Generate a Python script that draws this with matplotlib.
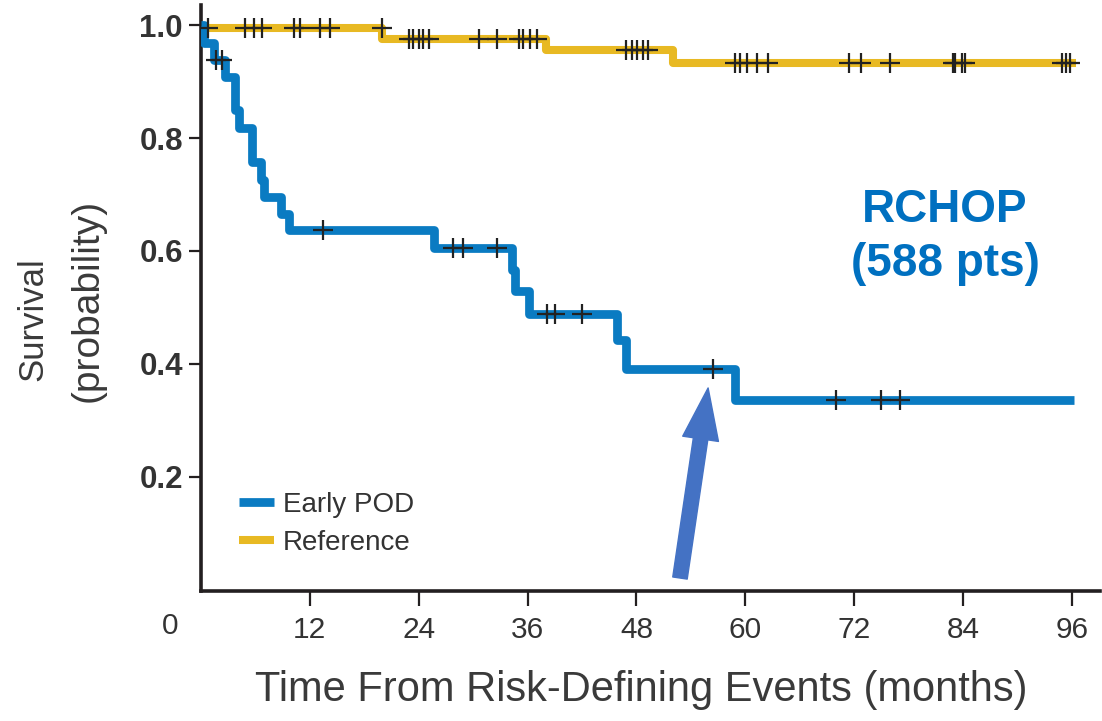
import numpy as np
import matplotlib
matplotlib.use('Agg')
import matplotlib.pyplot as plt
from matplotlib.patches import FancyArrowPatch, ArrowStyle

plt.rcParams['font.family'] = ['Liberation Sans', 'DejaVu Sans']

## Kaplan-Meier steps (months, survival)
pod_t = [0, 0.3, 1.4, 2.7, 3.75, 4.2, 5.66, 6.58, 6.9, 8.8, 9.7, 25.7,
         34.3, 34.6, 36.2, 45.9, 46.8, 58.9, 96.2]
pod_s = [1.0, 0.968, 0.939, 0.909, 0.849, 0.818, 0.757, 0.725, 0.695, 0.666,
         0.637, 0.605, 0.566, 0.529, 0.488, 0.442, 0.390, 0.335, 0.335]
pod_cens = [1.7, 2.3, 13.4, 27.8, 28.9, 32.6, 38.1, 39.0, 42.0, 56.4,
            70.0, 75.0, 77.0]

ref_t = [0, 20, 38, 52, 96.5]
ref_s = [0.995, 0.975, 0.957, 0.934, 0.934]
ref_cens = [0.8, 4.9, 5.8, 6.7, 10.2, 10.9, 13.1, 14.2, 19.9, 22.9, 23.4, 24.0,
            24.5, 25.1, 30.6, 32.6, 35.0, 35.5, 36.3, 37.0, 46.9, 47.5, 48.1,
            48.7, 49.3, 58.9, 59.4, 60.2, 61.3, 62.5, 71.4, 72.8, 75.9, 82.9,
            83.1, 83.9, 84.2, 94.9, 95.3, 95.8]

xticks = [12, 24, 36, 48, 60, 72, 84, 96]
yticks = [0.2, 0.4, 0.6, 0.8, 1.0]

# arrow tail / tip (months, survival)
arrow_tail = (52.8, 0.020)
arrow_tip = (55.9, 0.357)

blue = '#0A7BC2'
gold = '#E8B923'
dark = '#231F20'
txt = '#333333'


def level_at(t, times, surv):
    idx = np.searchsorted(times, t, side='right') - 1
    return np.asarray(surv)[idx]


fig = plt.figure(figsize=(11.02, 7.21), dpi=100)
ax = fig.add_axes([201/1102, 130/721, 899/1102, 586/721])

ax.plot(ref_t, ref_s, drawstyle='steps-post', color=gold, lw=5.8,
        solid_capstyle='butt', label='Reference', zorder=2)
ax.plot(pod_t, pod_s, drawstyle='steps-post', color=blue, lw=6.3,
        solid_capstyle='butt', label='Early POD', zorder=3)

ax.plot(ref_cens, level_at(ref_cens, ref_t, ref_s), ls='none', marker='+',
        ms=15, mew=1.6, color='#222222', zorder=4)
ax.plot(pod_cens, level_at(pod_cens, pod_t, pod_s), ls='none', marker='+',
        ms=15, mew=1.6, color='#222222', zorder=4)

ax.set_xlim(0, 99.1)
ax.set_ylim(-0.003, 1.036)
ax.set_xticks(xticks)
ax.set_xticklabels([str(v) for v in xticks], fontsize=21.5, color=txt)
ax.set_yticks(yticks)
ax.set_yticklabels(['%.1f' % v for v in yticks], fontsize=22.5, color=txt,
                   fontweight='bold')
ax.tick_params(axis='x', length=11, width=1.6, color=dark, pad=7)
ax.tick_params(axis='y', length=9, width=1.6, color=dark, pad=4)
for s in ['top', 'right']:
    ax.spines[s].set_visible(False)
for s in ['left', 'bottom']:
    ax.spines[s].set_linewidth(2.6)
    ax.spines[s].set_color(dark)

# shared origin label
ax.annotate('0', xy=(0, 0), xycoords='axes fraction', xytext=(-31, -35),
            textcoords='offset pixels', ha='center', va='center',
            fontsize=21.5, color=txt)

h, l = ax.get_legend_handles_labels()
leg = ax.legend(h[::-1], l[::-1], loc='upper left',
                bbox_to_anchor=(239/1102, 1 - 492/721),
                bbox_transform=fig.transFigure, frameon=False, fontsize=20,
                handlelength=1.26, handletextpad=0.32, labelspacing=0.42,
                borderpad=0, borderaxespad=0)
for t in leg.get_texts():
    t.set_color(txt)

ax.text(945/1102, 1 - 237/721, 'RCHOP\n(588 pts)', transform=fig.transFigure,
        ha='center', va='center', fontsize=33, fontweight='bold', color='#0070C0',
        linespacing=1.3)

arr = FancyArrowPatch(arrow_tail, arrow_tip,
                      arrowstyle=ArrowStyle.Simple(head_length=37, head_width=26,
                                                   tail_width=10.5),
                      mutation_scale=1, shrinkA=0, shrinkB=0,
                      color='#4472C4', zorder=5)
ax.add_patch(arr)

fig.text(33/1102, 1 - 319/721, 'Survival', rotation=90, ha='center', va='center',
         fontsize=25, color='#3a3a3a')
fig.text(88/1102, 1 - 300/721, '(probability)', rotation=90, ha='center',
         va='center', fontsize=28, color='#3a3a3a')
fig.text(641/1102, 1 - 690/721, 'Time From Risk-Defining Events (months)',
         ha='center', va='center', fontsize=30, color='#3a3a3a')

plt.savefig('out.png', dpi=100)
